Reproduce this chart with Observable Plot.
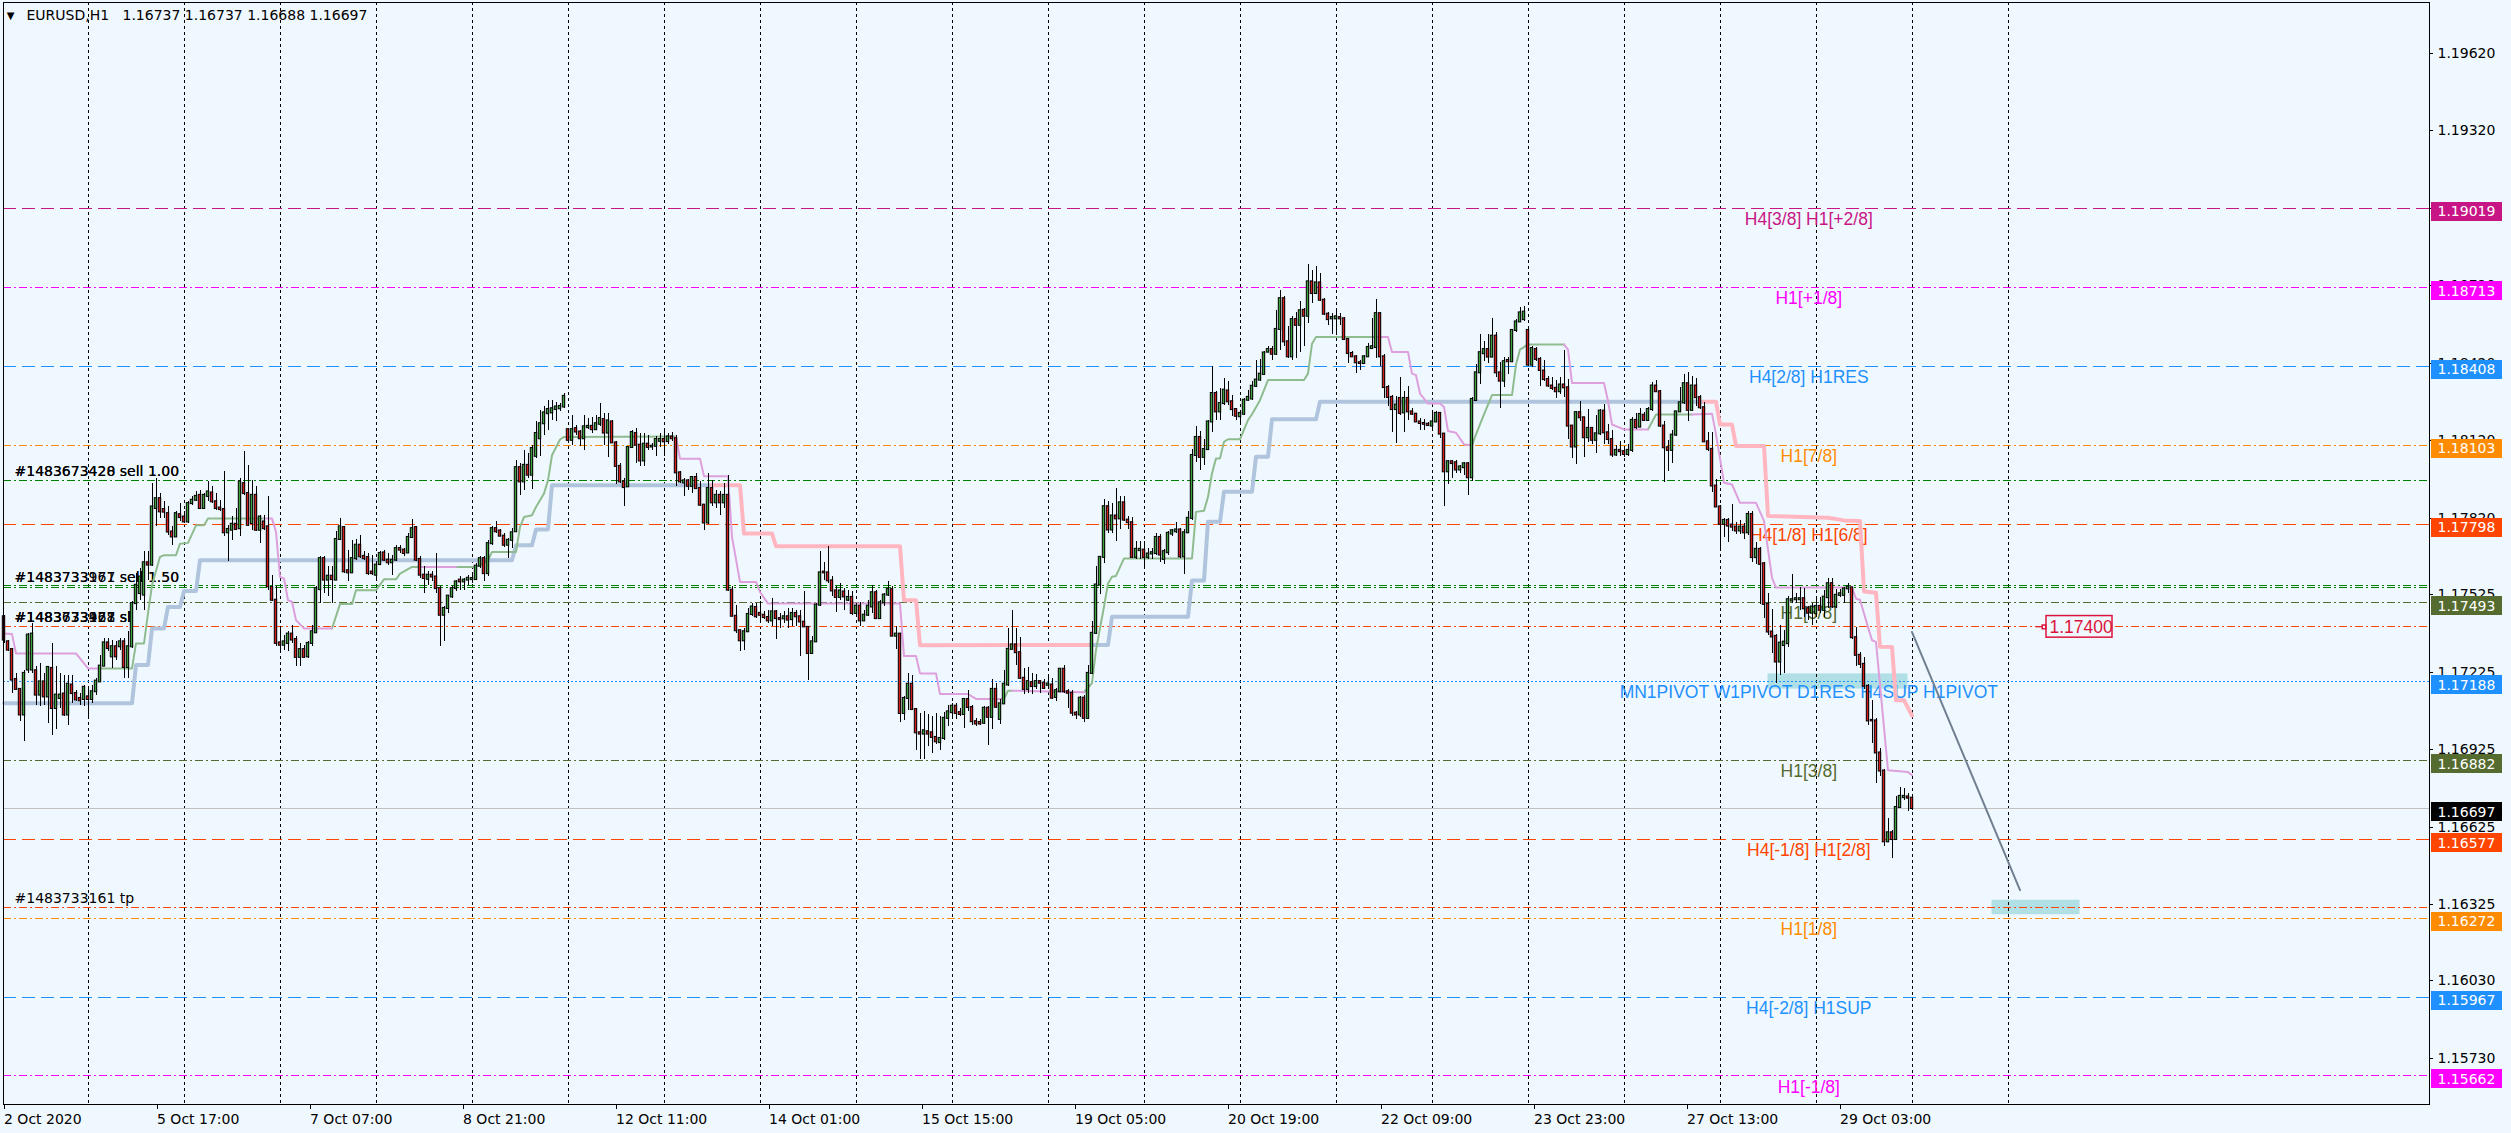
<!DOCTYPE html>
<html><head><meta charset="utf-8">
<script src="https://cdn.jsdelivr.net/npm/d3@7"></script>
<script src="https://cdn.jsdelivr.net/npm/@observablehq/plot@0.6"></script>
<style>html,body{margin:0;padding:0;background:#F0F8FF;overflow:hidden;}</style>
</head><body><div id="chart"></div>
<script>
// ---------------- DATA ----------------
const titleSymbol = "EURUSD,H1";
const titleOHLC = "1.16737 1.16737 1.16688 1.16697";

const opens = [
1.17439,1.17342,1.17312,1.17196,1.17158,1.17059,1.17233,1.17233,1.17230,1.17136,
1.17187,1.17129,1.17239,1.17084,1.17123,1.17140,1.17059,1.17175,1.17142,1.17123,
1.17119,1.17129,1.17119,1.17149,1.17187,1.17248,1.17338,1.17284,1.17323,1.17323,
1.17342,1.17243,1.17323,1.17490,1.17529,1.17523,1.17648,1.17639,1.17858,1.17896,
1.17854,1.17838,1.17767,1.17748,1.17834,1.17825,1.17806,1.17877,1.17890,1.17909,
1.17858,1.17905,1.17918,1.17884,1.17860,1.17854,1.17764,1.17774,1.17797,1.17780,
1.17954,1.17916,1.17800,1.17909,1.17774,1.17806,1.17787,1.17552,1.17503,1.17338,
1.17329,1.17336,1.17372,1.17351,1.17282,1.17312,1.17284,1.17336,1.17377,1.17544,
1.17664,1.17581,1.17596,1.17581,1.17738,1.17784,1.17617,1.17609,1.17664,1.17716,
1.17673,1.17668,1.17612,1.17600,1.17641,1.17686,1.17658,1.17648,1.17658,1.17703,
1.17697,1.17686,1.17746,1.17784,1.17661,1.17600,1.17584,1.17600,1.17593,1.17548,
1.17445,1.17471,1.17516,1.17548,1.17581,1.17574,1.17581,1.17583,1.17583,1.17635,
1.17664,1.17606,1.17722,1.17780,1.17771,1.17751,1.17716,1.17735,1.17768,1.18016,
1.17961,1.18025,1.17987,1.18060,1.18128,1.18186,1.18225,1.18228,1.18241,1.18244,
1.18251,1.18163,1.18122,1.18167,1.18154,1.18128,1.18171,1.18176,1.18163,1.18184,
1.18202,1.18150,1.18193,1.18112,1.18021,1.17961,1.17942,1.18094,1.18148,1.18103,
1.18042,1.18107,1.18096,1.18099,1.18118,1.18125,1.18117,1.18135,1.18128,1.17996,
1.17957,1.17965,1.17944,1.17978,1.17935,1.17871,1.17802,1.17935,1.17880,1.17909,
1.17880,1.17909,1.17542,1.17441,1.17385,1.17346,1.17381,1.17448,1.17475,1.17452,
1.17445,1.17436,1.17423,1.17458,1.17432,1.17431,1.17439,1.17428,1.17452,1.17439,
1.17418,1.17398,1.17297,1.17342,1.17484,1.17612,1.17609,1.17578,1.17539,1.17514,
1.17535,1.17503,1.17514,1.17452,1.17480,1.17423,1.17445,1.17477,1.17532,1.17432,
1.17493,1.17523,1.17544,1.17364,1.17372,1.17065,1.17123,1.17178,1.17080,1.16990,
1.16985,1.16994,1.16990,1.16972,1.16952,1.16968,1.17046,1.17068,1.17093,1.17068,
1.17061,1.17119,1.17088,1.17033,1.17030,1.17027,1.17085,1.17050,1.17158,1.17042,
1.17102,1.17175,1.17313,1.17330,1.17300,1.17201,1.17158,1.17184,1.17169,1.17188,
1.17182,1.17174,1.17175,1.17127,1.17149,1.17236,1.17149,1.17143,1.17066,1.17059,
1.17124,1.17046,1.17220,1.17375,1.17562,1.17669,1.17865,1.17775,1.17829,1.17818,
1.17880,1.17813,1.17803,1.17669,1.17695,1.17697,1.17669,1.17682,1.17684,1.17746,
1.17661,1.17687,1.17759,1.17768,1.17775,1.17671,1.17764,1.17820,1.18063,1.18133,
1.18056,1.18086,1.18193,1.18303,1.18232,1.18264,1.18313,1.18271,1.18241,1.18213,
1.18223,1.18277,1.18282,1.18331,1.18355,1.18377,1.18463,1.18473,1.18455,1.18551,
1.18670,1.18503,1.18445,1.18589,1.18567,1.18625,1.18602,1.18735,1.18690,1.18731,
1.18664,1.18610,1.18592,1.18592,1.18597,1.18592,1.18512,1.18458,1.18445,1.18422,
1.18419,1.18445,1.18477,1.18481,1.18612,1.18445,1.18326,1.18288,1.18241,1.18284,
1.18228,1.18284,1.18232,1.18223,1.18193,1.18187,1.18184,1.18177,1.18193,1.18226,
1.18146,1.18000,1.18039,1.18035,1.18007,1.18016,1.18031,1.17977,1.18276,1.18383,
1.18457,1.18473,1.18444,1.18525,1.18383,1.18351,1.18431,1.18426,1.18547,1.18580,
1.18589,1.18547,1.18413,1.18473,1.18435,1.18390,1.18357,1.18332,1.18323,1.18310,
1.18336,1.18325,1.18177,1.18096,1.18229,1.18209,1.18132,1.18168,1.18122,1.18147,
1.18235,1.18151,1.18125,1.18065,1.18083,1.18078,1.18067,1.18083,1.18199,1.18173,
1.18219,1.18199,1.18241,1.18332,1.18310,1.18177,1.18093,1.18083,1.18142,1.18232,
1.18267,1.18341,1.18238,1.18332,1.18287,1.18248,1.18116,1.18087,1.17945,1.17864,
1.17797,1.17812,1.17794,1.17786,1.17771,1.17786,1.17764,1.17835,1.17668,1.17700,
1.17644,1.17487,1.17380,1.17363,1.17264,1.17328,1.17335,1.17500,1.17505,1.17505,
1.17509,1.17470,1.17453,1.17451,1.17479,1.17464,1.17513,1.17567,1.17477,1.17522,
1.17522,1.17547,1.17551,1.17358,1.17290,1.17255,1.17170,1.17038,1.17036,1.16912,
1.16842,1.16568,1.16603,1.16577,1.16701,1.16739,1.16742,1.16737];

const highs = [
1.17445,1.17349,1.17316,1.17220,1.17162,1.17233,1.17374,1.17413,1.17246,1.17258,
1.17220,1.17248,1.17336,1.17246,1.17220,1.17213,1.17213,1.17213,1.17155,1.17142,
1.17175,1.17168,1.17175,1.17200,1.17291,1.17355,1.17355,1.17349,1.17342,1.17355,
1.17355,1.17381,1.17497,1.17606,1.17626,1.17690,1.17690,1.17954,1.17974,1.17916,
1.17884,1.17864,1.17787,1.17845,1.17877,1.17845,1.17884,1.17903,1.17922,1.17929,
1.17916,1.17961,1.17942,1.17916,1.17890,1.18000,1.17793,1.17826,1.17858,1.17974,
1.18077,1.18025,1.17967,1.17942,1.17832,1.17832,1.17903,1.17600,1.17555,1.17400,
1.17368,1.17381,1.17407,1.17361,1.17336,1.17329,1.17342,1.17407,1.17555,1.17671,
1.17671,1.17632,1.17632,1.17768,1.17819,1.17787,1.17697,1.17735,1.17738,1.17755,
1.17690,1.17684,1.17677,1.17652,1.17690,1.17697,1.17684,1.17677,1.17716,1.17716,
1.17703,1.17761,1.17815,1.17789,1.17671,1.17632,1.17613,1.17613,1.17684,1.17555,
1.17477,1.17523,1.17555,1.17581,1.17593,1.17587,1.17600,1.17606,1.17645,1.17671,
1.17671,1.17735,1.17787,1.17806,1.17777,1.17761,1.17742,1.17780,1.18045,1.18032,
1.18083,1.18070,1.18103,1.18193,1.18238,1.18251,1.18277,1.18277,1.18270,1.18264,
1.18302,1.18167,1.18219,1.18180,1.18161,1.18219,1.18206,1.18212,1.18219,1.18264,
1.18225,1.18225,1.18199,1.18118,1.18032,1.17974,1.18096,1.18158,1.18167,1.18148,
1.18148,1.18141,1.18109,1.18135,1.18148,1.18167,1.18150,1.18154,1.18141,1.18003,
1.17974,1.17970,1.17983,1.17993,1.17961,1.17874,1.17993,1.17967,1.17929,1.17922,
1.17954,1.17987,1.17557,1.17484,1.17387,1.17394,1.17471,1.17490,1.17490,1.17497,
1.17458,1.17465,1.17510,1.17465,1.17452,1.17458,1.17471,1.17471,1.17465,1.17465,
1.17535,1.17400,1.17361,1.17490,1.17690,1.17648,1.17712,1.17596,1.17557,1.17568,
1.17548,1.17542,1.17535,1.17490,1.17493,1.17465,1.17503,1.17561,1.17542,1.17503,
1.17529,1.17574,1.17555,1.17400,1.17374,1.17129,1.17220,1.17213,1.17084,1.17065,
1.17071,1.17059,1.17052,1.17065,1.17052,1.17068,1.17097,1.17104,1.17104,1.17084,
1.17123,1.17155,1.17097,1.17046,1.17040,1.17091,1.17091,1.17197,1.17182,1.17117,
1.17233,1.17394,1.17463,1.17394,1.17360,1.17240,1.17244,1.17220,1.17214,1.17192,
1.17197,1.17214,1.17201,1.17162,1.17240,1.17249,1.17156,1.17153,1.17072,1.17130,
1.17133,1.17249,1.17420,1.17633,1.17671,1.17891,1.17884,1.17878,1.17936,1.17903,
1.17906,1.17826,1.17824,1.17729,1.17729,1.17729,1.17704,1.17704,1.17762,1.17759,
1.17700,1.17768,1.17777,1.17803,1.17781,1.17775,1.17845,1.18086,1.18177,1.18155,
1.18125,1.18200,1.18409,1.18309,1.18322,1.18361,1.18348,1.18297,1.18245,1.18239,
1.18284,1.18313,1.18348,1.18432,1.18435,1.18464,1.18484,1.18484,1.18625,1.18703,
1.18677,1.18563,1.18600,1.18615,1.18658,1.18632,1.18803,1.18780,1.18795,1.18767,
1.18670,1.18615,1.18612,1.18625,1.18612,1.18597,1.18516,1.18464,1.18451,1.18429,
1.18451,1.18496,1.18593,1.18667,1.18615,1.18455,1.18335,1.18297,1.18290,1.18365,
1.18309,1.18329,1.18245,1.18226,1.18206,1.18203,1.18190,1.18232,1.18232,1.18228,
1.18148,1.18045,1.18045,1.18045,1.18026,1.18035,1.18035,1.18287,1.18415,1.18531,
1.18506,1.18531,1.18593,1.18538,1.18422,1.18444,1.18441,1.18551,1.18589,1.18635,
1.18641,1.18555,1.18486,1.18482,1.18444,1.18431,1.18370,1.18364,1.18354,1.18364,
1.18470,1.18357,1.18181,1.18235,1.18274,1.18212,1.18241,1.18173,1.18219,1.18241,
1.18261,1.18183,1.18160,1.18103,1.18119,1.18087,1.18106,1.18209,1.18225,1.18245,
1.18229,1.18248,1.18345,1.18354,1.18315,1.18194,1.18122,1.18158,1.18235,1.18325,
1.18377,1.18383,1.18370,1.18361,1.18297,1.18267,1.18151,1.18151,1.17971,1.17868,
1.17820,1.17820,1.17874,1.17803,1.17810,1.17799,1.17848,1.17846,1.17726,1.17706,
1.17651,1.17528,1.17466,1.17371,1.17406,1.17386,1.17518,1.17603,1.17528,1.17554,
1.17547,1.17477,1.17489,1.17509,1.17515,1.17541,1.17586,1.17586,1.17544,1.17544,
1.17554,1.17569,1.17554,1.17399,1.17299,1.17283,1.17177,1.17116,1.17045,1.16929,
1.16847,1.16658,1.16613,1.16744,1.16780,1.16774,1.16755,1.16737];

const lows = [
1.17336,1.17303,1.17142,1.17155,1.17033,1.16955,1.17220,1.17220,1.17097,1.17091,
1.17097,1.17026,1.16981,1.17001,1.17084,1.17052,1.17020,1.17104,1.17110,1.17097,
1.17091,1.17046,1.17104,1.17136,1.17187,1.17246,1.17303,1.17239,1.17271,1.17310,
1.17200,1.17200,1.17316,1.17465,1.17503,1.17465,1.17581,1.17635,1.17787,1.17819,
1.17819,1.17755,1.17716,1.17745,1.17806,1.17800,1.17800,1.17871,1.17884,1.17855,
1.17854,1.17884,1.17877,1.17851,1.17845,1.17748,1.17652,1.17735,1.17774,1.17748,
1.17909,1.17787,1.17774,1.17768,1.17722,1.17774,1.17542,1.17497,1.17323,1.17303,
1.17310,1.17303,1.17336,1.17248,1.17246,1.17278,1.17278,1.17323,1.17374,1.17490,
1.17529,1.17516,1.17490,1.17578,1.17735,1.17606,1.17574,1.17606,1.17658,1.17664,
1.17658,1.17600,1.17600,1.17581,1.17639,1.17652,1.17639,1.17600,1.17652,1.17684,
1.17671,1.17684,1.17742,1.17652,1.17587,1.17529,1.17561,1.17574,1.17529,1.17323,
1.17342,1.17452,1.17510,1.17535,1.17542,1.17542,1.17561,1.17568,1.17581,1.17626,
1.17574,1.17593,1.17716,1.17761,1.17748,1.17709,1.17664,1.17703,1.17764,1.17909,
1.17929,1.17974,1.17931,1.18051,1.18058,1.18141,1.18161,1.18199,1.18193,1.18232,
1.18244,1.18109,1.18103,1.18141,1.18099,1.18083,1.18163,1.18148,1.18161,1.18174,
1.18103,1.18055,1.18109,1.17952,1.17954,1.17864,1.17939,1.18090,1.18034,1.18019,
1.18019,1.18083,1.18083,1.18058,1.18096,1.18058,1.18107,1.18116,1.17942,1.17954,
1.17903,1.17929,1.17916,1.17931,1.17864,1.17774,1.17797,1.17864,1.17858,1.17832,
1.17858,1.17535,1.17439,1.17374,1.17303,1.17307,1.17377,1.17439,1.17432,1.17423,
1.17428,1.17413,1.17400,1.17351,1.17394,1.17413,1.17394,1.17400,1.17400,1.17284,
1.17398,1.17194,1.17294,1.17338,1.17480,1.17581,1.17568,1.17516,1.17454,1.17503,
1.17465,1.17497,1.17445,1.17436,1.17400,1.17419,1.17439,1.17452,1.17428,1.17428,
1.17477,1.17519,1.17361,1.17312,1.17029,1.17037,1.17078,1.17078,1.16921,1.16885,
1.16885,1.16936,1.16910,1.16943,1.16923,1.16962,1.17013,1.17052,1.17042,1.17052,
1.17007,1.17071,1.17020,1.17013,1.17017,1.17021,1.16939,1.17001,1.17085,1.17021,
1.17098,1.17171,1.17311,1.17249,1.17195,1.17140,1.17143,1.17137,1.17156,1.17143,
1.17156,1.17162,1.17120,1.17111,1.17146,1.17143,1.17085,1.17055,1.17040,1.17050,
1.17030,1.17040,1.17214,1.17372,1.17527,1.17646,1.17762,1.17762,1.17729,1.17775,
1.17807,1.17775,1.17665,1.17661,1.17659,1.17626,1.17661,1.17661,1.17678,1.17648,
1.17643,1.17678,1.17751,1.17762,1.17665,1.17601,1.17762,1.17813,1.18035,1.18007,
1.18026,1.18081,1.18151,1.18200,1.18200,1.18258,1.18258,1.18213,1.18200,1.18187,
1.18219,1.18271,1.18277,1.18326,1.18348,1.18374,1.18460,1.18432,1.18451,1.18471,
1.18486,1.18438,1.18429,1.18438,1.18460,1.18486,1.18574,1.18651,1.18687,1.18658,
1.18606,1.18567,1.18533,1.18529,1.18567,1.18507,1.18419,1.18442,1.18380,1.18393,
1.18416,1.18442,1.18473,1.18438,1.18406,1.18284,1.18251,1.18151,1.18110,1.18219,
1.18151,1.18200,1.18219,1.18190,1.18159,1.18159,1.18174,1.18161,1.18190,1.18129,
1.17867,1.17949,1.17974,1.17994,1.17994,1.17984,1.17910,1.17962,1.18274,1.18338,
1.18428,1.18418,1.18441,1.18364,1.18245,1.18325,1.18377,1.18422,1.18538,1.18577,
1.18583,1.18409,1.18403,1.18428,1.18332,1.18351,1.18325,1.18315,1.18284,1.18299,
1.18287,1.18125,1.18052,1.18029,1.18196,1.18054,1.18112,1.18106,1.18070,1.18142,
1.18106,1.18106,1.18057,1.18061,1.18061,1.18054,1.18061,1.18074,1.18164,1.18171,
1.18194,1.18196,1.18235,1.18306,1.18171,1.17958,1.18003,1.18031,1.18138,1.18229,
1.18261,1.18194,1.18235,1.18254,1.18241,1.18112,1.18080,1.17919,1.17861,1.17691,
1.17745,1.17726,1.17768,1.17758,1.17758,1.17739,1.17752,1.17648,1.17642,1.17487,
1.17431,1.17367,1.17296,1.17180,1.17212,1.17219,1.17319,1.17489,1.17489,1.17464,
1.17438,1.17425,1.17406,1.17438,1.17451,1.17438,1.17470,1.17470,1.17470,1.17515,
1.17489,1.17528,1.17350,1.17247,1.17238,1.17157,1.17019,1.16948,1.16793,1.16822,
1.16551,1.16564,1.16503,1.16574,1.16697,1.16729,1.16684,1.16688];

const closes = [
1.17349,1.17310,1.17194,1.17158,1.17059,1.17220,1.17368,1.17372,1.17136,1.17187,
1.17129,1.17243,1.17084,1.17136,1.17136,1.17059,1.17178,1.17142,1.17117,1.17114,
1.17166,1.17119,1.17149,1.17190,1.17248,1.17338,1.17316,1.17323,1.17284,1.17342,
1.17243,1.17323,1.17490,1.17561,1.17593,1.17648,1.17639,1.17864,1.17896,1.17845,
1.17844,1.17767,1.17748,1.17838,1.17823,1.17806,1.17877,1.17890,1.17905,1.17858,
1.17909,1.17922,1.17884,1.17858,1.17854,1.17764,1.17777,1.17797,1.17777,1.17961,
1.17916,1.17793,1.17909,1.17774,1.17825,1.17780,1.17555,1.17503,1.17336,1.17329,
1.17342,1.17372,1.17349,1.17282,1.17312,1.17282,1.17336,1.17381,1.17548,1.17664,
1.17581,1.17596,1.17583,1.17738,1.17787,1.17613,1.17609,1.17664,1.17716,1.17671,
1.17664,1.17606,1.17606,1.17639,1.17684,1.17658,1.17648,1.17658,1.17703,1.17697,
1.17684,1.17746,1.17780,1.17658,1.17600,1.17587,1.17600,1.17593,1.17548,1.17445,
1.17471,1.17519,1.17548,1.17574,1.17574,1.17581,1.17588,1.17587,1.17635,1.17664,
1.17606,1.17722,1.17780,1.17768,1.17751,1.17716,1.17735,1.17764,1.18016,1.17961,
1.18025,1.17987,1.18090,1.18148,1.18186,1.18228,1.18241,1.18244,1.18251,1.18253,
1.18292,1.18122,1.18163,1.18154,1.18128,1.18174,1.18176,1.18163,1.18186,1.18206,
1.18150,1.18197,1.18112,1.18021,1.17961,1.17939,1.18094,1.18152,1.18103,1.18042,
1.18107,1.18094,1.18099,1.18125,1.18125,1.18116,1.18135,1.18128,1.17996,1.17961,
1.17965,1.17944,1.17978,1.17935,1.17871,1.17802,1.17935,1.17880,1.17909,1.17880,
1.17909,1.17542,1.17441,1.17385,1.17346,1.17381,1.17448,1.17477,1.17439,1.17445,
1.17436,1.17423,1.17458,1.17432,1.17428,1.17439,1.17426,1.17452,1.17439,1.17419,
1.17400,1.17297,1.17342,1.17484,1.17609,1.17609,1.17578,1.17539,1.17514,1.17539,
1.17516,1.17514,1.17452,1.17480,1.17423,1.17445,1.17480,1.17532,1.17432,1.17493,
1.17523,1.17544,1.17364,1.17372,1.17065,1.17123,1.17178,1.17080,1.16990,1.16985,
1.16998,1.16985,1.16972,1.16955,1.16968,1.17046,1.17071,1.17093,1.17065,1.17061,
1.17119,1.17088,1.17033,1.17024,1.17024,1.17085,1.17050,1.17158,1.17089,1.17102,
1.17178,1.17313,1.17330,1.17300,1.17201,1.17158,1.17188,1.17169,1.17188,1.17182,
1.17162,1.17179,1.17124,1.17153,1.17236,1.17149,1.17143,1.17066,1.17059,1.17124,
1.17046,1.17220,1.17375,1.17562,1.17669,1.17865,1.17775,1.17829,1.17818,1.17880,
1.17813,1.17803,1.17669,1.17700,1.17700,1.17669,1.17682,1.17687,1.17746,1.17678,
1.17691,1.17762,1.17772,1.17775,1.17671,1.17764,1.17820,1.18063,1.18133,1.18056,
1.18086,1.18193,1.18303,1.18232,1.18264,1.18316,1.18271,1.18241,1.18215,1.18226,
1.18277,1.18288,1.18331,1.18355,1.18378,1.18460,1.18473,1.18455,1.18551,1.18670,
1.18503,1.18445,1.18589,1.18567,1.18623,1.18602,1.18735,1.18690,1.18731,1.18664,
1.18610,1.18589,1.18597,1.18600,1.18592,1.18512,1.18458,1.18445,1.18422,1.18419,
1.18445,1.18481,1.18484,1.18612,1.18445,1.18326,1.18288,1.18241,1.18258,1.18226,
1.18284,1.18232,1.18223,1.18193,1.18187,1.18184,1.18179,1.18193,1.18226,1.18146,
1.18000,1.18039,1.18032,1.18007,1.18019,1.18031,1.17977,1.18280,1.18383,1.18461,
1.18473,1.18444,1.18525,1.18383,1.18351,1.18426,1.18426,1.18547,1.18580,1.18615,
1.18618,1.18413,1.18477,1.18435,1.18392,1.18357,1.18332,1.18323,1.18310,1.18336,
1.18325,1.18177,1.18096,1.18229,1.18209,1.18132,1.18168,1.18122,1.18147,1.18235,
1.18151,1.18125,1.18065,1.18083,1.18078,1.18067,1.18083,1.18199,1.18171,1.18222,
1.18199,1.18241,1.18332,1.18310,1.18177,1.18093,1.18083,1.18142,1.18232,1.18267,
1.18341,1.18238,1.18332,1.18287,1.18248,1.18116,1.18087,1.17945,1.17864,1.17797,
1.17812,1.17790,1.17786,1.17771,1.17786,1.17764,1.17835,1.17668,1.17700,1.17642,
1.17487,1.17380,1.17361,1.17264,1.17337,1.17341,1.17505,1.17505,1.17509,1.17509,
1.17470,1.17453,1.17477,1.17479,1.17464,1.17515,1.17567,1.17477,1.17522,1.17528,
1.17547,1.17554,1.17358,1.17290,1.17255,1.17170,1.17036,1.17036,1.16912,1.16842,
1.16568,1.16603,1.16577,1.16701,1.16744,1.16744,1.16737,1.16697];

// Murrey-style level lines
const levelPrices = [1.19019,1.18713,1.18408,1.18103,1.17798,1.17493,1.17188,1.16882,1.16577,1.16272,1.15967,1.15662];
const levelLabels = ["H4[3/8] H1[+2/8]","H1[+1/8]","H4[2/8] H1RES","H1[7/8]","H4[1/8] H1[6/8]","H1[5/8]",
  "MN1PIVOT W1PIVOT D1RES H4SUP H1PIVOT","H1[3/8]","H4[-1/8] H1[2/8]","H1[1/8]","H4[-2/8] H1SUP","H1[-1/8]"];
const bidPrice = 1.16697;

// order lines
const sellPrices = [1.17968, 1.17561, 1.17553];
const stopPrices = [1.17400, 1.16314];
const orderTextPrices = [1.17968,1.17968,1.17557,1.17557,1.17400,1.17400,1.17400,1.16314];
const orderTexts = ["#1483673428 sell 1.00","#1483673420 sell 1.00","#1483733977 sell 1.50","#1483733161 sell 1.50",
  "#1483673428 sl","#1483733977 sl","#1483733161 sl","#1483733161 tp"];

// axes
const yTicks = [1.19620,1.19320,1.19020,1.18720,1.18420,1.18120,1.17820,1.17525,1.17225,1.16925,1.16625,1.16325,1.16030,1.15730];
const xTickBars = [0,38.25,76.5,114.75,153,191.25,229.5,267.75,306,344.25,382.5,420.75,459];
const xTickLabels = ["2 Oct 2020","5 Oct 17:00","7 Oct 07:00","8 Oct 21:00","12 Oct 11:00","14 Oct 01:00","15 Oct 15:00",
  "19 Oct 05:00","20 Oct 19:00","22 Oct 09:00","23 Oct 23:00","27 Oct 13:00","29 Oct 03:00"];
const dayStartBars = [21,45,69,93,117,141,165,189,213,237,261,285,309,333,357,381,405,429,453,477,501];

// slow trailing line: up (steel blue) / down (pink) ; [bar, price]
const slowUp1 = [[0,1.17104],[32,1.17104],[33,1.17252],[36,1.17252],[37,1.17394],[40,1.17394],[41,1.17477],[44,1.17477],
  [45,1.17539],[48,1.17539],[49,1.17658],[127,1.17658],[128,1.17716],[132,1.17716],[133,1.17777],[136,1.17777],[137,1.17948],[177,1.17948]];
const slowDown1 = [[177,1.17948],[184,1.17948],[185,1.17761],[192,1.17761],[193,1.17712],[224,1.17712],[225,1.17503],[228,1.17503],[229,1.17329],[271,1.17330]];
const slowUp2 = [[271,1.17330],[276,1.17330],[277,1.17439],[296,1.17439],[297,1.17579],[300,1.17579],[301,1.17807],[304,1.17807],
  [305,1.17923],[312,1.17923],[313,1.18058],[316,1.18058],[317,1.18203],[328,1.18203],[329,1.18271],[425,1.18271]];
const slowDown2 = [[425,1.18271],[428,1.18271],[429,1.18183],[432,1.18183],[433,1.18100],[440,1.18100],[441,1.17829],[456,1.17822],
  [460,1.17812],[464,1.17810],[465,1.17537],[468,1.17532],[469,1.17323],[472,1.17322],[473,1.17116],[475,1.17116],[477,1.17057]];

// fast trailing line: up (dark sea green) / down (plum)
const fastDown = [
  [[0,1.17374],[2,1.17372],[3,1.17297],[18,1.17297],[21,1.17239],[24,1.17239]],
  [[65,1.17819],[67,1.17819],[68,1.17768],[69,1.17593],[70,1.17587],[71,1.17503],[72,1.17497],[73,1.17426],[75,1.17394],[82,1.17394]],
  [[104,1.17632],[113,1.17632]],
  [[168,1.18137],[169,1.18051],[174,1.18051],[175,1.17983],[181,1.17983],[182,1.17748],[184,1.17574],[188,1.17574],[189,1.17535],
   [191,1.17490],[224,1.17490],[225,1.17287],[228,1.17287],[229,1.17220],[233,1.17220],[234,1.17140],[241,1.17140],[243,1.17121],[250,1.17121]],
  [[252,1.17153],[270,1.17147]],
  [[343,1.18522],[346,1.18522],[347,1.18464],[351,1.18464],[352,1.18380],[353,1.18374],[354,1.18303],[356,1.18264],[359,1.18264],
   [360,1.18251],[361,1.18158],[363,1.18151],[365,1.18106],[367,1.18103]],
  [[390,1.18493],[391,1.18473],[392,1.18344],[400,1.18344],[401,1.18274],[402,1.18183],[405,1.18164],[411,1.18164]],
  [[422,1.18222],[427,1.18225],[428,1.18145],[430,1.17958],[432,1.17951],[434,1.17880],[438,1.17880],[440,1.17810],[442,1.17590],
   [443,1.17552],[462,1.17552],[463,1.17509],[464,1.17505],[466,1.17399],[467,1.17348],[468,1.17342],[471,1.16845],[476,1.16838],[477,1.16826]]
];
const fastUp = [
  [[24,1.17239],[32,1.17239],[33,1.17336],[35,1.17336],[36,1.17452],[37,1.17561],[39,1.17671],[40,1.17677],[43,1.17677],[44,1.17722],
   [46,1.17725],[48,1.17793],[50,1.17793],[51,1.17819],[65,1.17819]],
  [[82,1.17394],[84,1.17488],[87,1.17488],[88,1.17542],[93,1.17542],[95,1.17584],[98,1.17584],[99,1.17606],[102,1.17632],[104,1.17632]],
  [[113,1.17632],[118,1.17632],[119,1.17639],[121,1.17658],[122,1.17690],[128,1.17690],[129,1.17787],[130,1.17825],[132,1.17832],
   [133,1.17864],[135,1.17916],[136,1.17967],[137,1.18064],[139,1.18125],[140,1.18135],[168,1.18137]],
  [[250,1.17121],[251,1.17153],[252,1.17153]],
  [[270,1.17147],[272,1.17182],[273,1.17311],[275,1.17478],[276,1.17568],[277,1.17594],[278,1.17597],[280,1.17665],[297,1.17665],
   [298,1.17845],[300,1.17849],[301,1.17903],[302,1.17994],[303,1.18052],[304,1.18052],[305,1.18116],[306,1.18126],[309,1.18126],
   [311,1.18200],[312,1.18223],[314,1.18277],[316,1.18355],[325,1.18355],[326,1.18380],[327,1.18496],[328,1.18522],[343,1.18522]],
  [[367,1.18103],[368,1.18145],[370,1.18222],[372,1.18297],[377,1.18297],[378,1.18415],[379,1.18473],[381,1.18493],[390,1.18493]],
  [[411,1.18164],[413,1.18222],[422,1.18222]]
];

// drawn objects
const zoneBars1 = [441, 497], zoneBars2 = [476, 519];
const zonePrices1 = [1.17159, 1.16286], zonePrices2 = [1.17218, 1.16342];
const trendBars = [477, 504], trendPrices = [1.17380, 1.16381];
const priceLabelBar = 508, priceLabelPrice = 1.17400;

// ---------------- STYLES / LAYOUT ----------------
const levelColors = ["#C71585","#FF00FF","#1E90FF","#FF8C00","#FF4500","#556B2F","#1E90FF","#556B2F","#FF4500","#FF8C00","#1E90FF","#FF00FF"];
const levelStyles = ["dash","dashdot","dash","dashdot","dash","dashdot","dot","dashdot","dash","dashdot","dash","dashdot"];
const dashOf = {dash: "13,6", dashdot: "8,3,2,3", dot: "2,2"};
const BULL = "#3DA23D", BEAR = "#D41E1E";
const X_DOMAIN = [-0.125, 606.375];
const Y_DOMAIN = [1.155516, 1.198162];
const xMax = X_DOMAIN[1];
const levelLabelBar = 451.2;
const LABEL_FONT = "Liberation Sans, Arial, sans-serif";

const title = titleSymbol + "\u00A0\u00A0 " + titleOHLC;
const bars = closes.map((c, i) => ({i, o: opens[i], h: highs[i], l: lows[i], c}));
const levels = levelPrices.map((p, k) => ({price: p, label: levelLabels[k], color: levelColors[k], style: levelStyles[k]}));
const axisBoxes = levels.concat([{price: bidPrice, color: "#000000"}]);
const orderLabelData = orderTexts.map((t, k) => ({t, price: orderTextPrices[k]}));
const zones = zoneBars1.map((b, k) => ({b1: b, b2: zoneBars2[k], p1: zonePrices1[k], p2: zonePrices2[k]}));
const trend = trendBars.map((b, k) => ({b, p: trendPrices[k]}));
const priceLabel = [{bar: priceLabelBar, price: priceLabelPrice}];
const xTicks = xTickBars.map((b, k) => ({b, t: xTickLabels[k]}));

const marks = [];
marks.push(Plot.rect(zones, {x1: "b1", x2: "b2", y1: "p1", y2: "p2", fill: "#B0E0E6"}));
marks.push(Plot.ruleX(dayStartBars, {x: d => d, stroke: "black", strokeDasharray: "3,3", shapeRendering: "crispEdges"}));
for (const s of ["dash", "dashdot", "dot"]) {
  marks.push(Plot.ruleY(levels.filter(d => d.style === s), {y: "price", stroke: "color", strokeDasharray: dashOf[s], shapeRendering: "crispEdges"}));
}
marks.push(Plot.ruleY(sellPrices, {y: d => d, stroke: "#008000", strokeDasharray: "8,3,2,3", shapeRendering: "crispEdges"}));
marks.push(Plot.ruleY(stopPrices, {y: d => d, stroke: "#FF4500", strokeDasharray: "8,3,2,3", shapeRendering: "crispEdges"}));
marks.push(Plot.ruleY([bidPrice], {y: d => d, stroke: "#C0C0C0", shapeRendering: "crispEdges"}));
marks.push(Plot.text(levels, {x: () => levelLabelBar, y: "price", text: "label", fill: "color", dy: 11,
  fontFamily: LABEL_FONT, fontSize: 17.5}));
marks.push(Plot.text(orderLabelData, {y: "price", text: "t", frameAnchor: "left", textAnchor: "start", dx: 11, dy: -9, fill: "black"}));
// indicator lines
for (const seg of [slowUp1, slowUp2]) marks.push(Plot.line(seg, {x: d => d[0], y: d => d[1], stroke: "#B0C4DE", strokeWidth: 4}));
for (const seg of [slowDown1, slowDown2]) marks.push(Plot.line(seg, {x: d => d[0], y: d => d[1], stroke: "#FFB6C1", strokeWidth: 4}));
for (const seg of fastUp) marks.push(Plot.line(seg, {x: d => d[0], y: d => d[1], stroke: "#8FBC8F", strokeWidth: 2}));
for (const seg of fastDown) marks.push(Plot.line(seg, {x: d => d[0], y: d => d[1], stroke: "#DDA0DD", strokeWidth: 2}));
// candles
marks.push(Plot.ruleX(bars, {x: "i", y1: "l", y2: "h", stroke: "black", strokeWidth: 1, shapeRendering: "crispEdges"}));
marks.push(Plot.rect(bars, {x1: d => d.i - 0.3, x2: d => d.i + 0.3, y1: "o", y2: "c",
  fill: d => d.c >= d.o ? BULL : BEAR, stroke: "black", strokeWidth: 1, insetTop: -0.5, insetBottom: -0.5}));
// trend line & price label object
marks.push(Plot.line(trend, {x: "b", y: "p", stroke: "#708090", strokeWidth: 2}));
marks.push(Plot.ruleY(priceLabel, {y: "price", x1: "bar", x2: "bar", insetRight: -10.5, stroke: "#DC143C"}));
marks.push(Plot.rect(priceLabel, {x1: "bar", x2: "bar", y1: "price", y2: "price", insetLeft: 10.5, insetRight: -76.5,
  insetTop: -10.8, insetBottom: -10.8, fill: "#F0F8FF", stroke: "#DC143C", strokeWidth: 1.5}));
marks.push(Plot.dot(priceLabel, {x: "bar", y: "price", symbol: "square", r: 2, stroke: "#DC143C", fill: "white", dx: 8}));
marks.push(Plot.text(priceLabel, {x: "bar", y: "price", text: d => d.price.toFixed(5), textAnchor: "start", dx: 13.5, dy: 1,
  fill: "#DC143C", fontFamily: LABEL_FONT, fontSize: 17.5}));
// right axis
marks.push(Plot.ruleY(yTicks, {y: d => d, x1: () => xMax, x2: () => xMax, insetRight: -4, stroke: "black", shapeRendering: "crispEdges"}));
marks.push(Plot.text(yTicks, {y: d => d, text: d => d.toFixed(5), frameAnchor: "right", textAnchor: "start", dx: 8, fill: "black"}));
marks.push(Plot.rect(axisBoxes, {x1: () => xMax, x2: () => xMax, y1: "price", y2: "price", insetLeft: 2, insetRight: -73,
  insetTop: -6, insetBottom: -13, fill: "color", shapeRendering: "crispEdges"}));
marks.push(Plot.text(axisBoxes, {y: "price", text: d => d.price.toFixed(5), frameAnchor: "right", textAnchor: "start", dx: 8, dy: 3.5, fill: "white"}));
// bottom axis
marks.push(Plot.ruleX(xTickBars, {x: d => d, y1: () => Y_DOMAIN[0], y2: () => Y_DOMAIN[0], insetBottom: -5, stroke: "black", shapeRendering: "crispEdges"}));
marks.push(Plot.text(xTicks, {x: "b", text: "t", frameAnchor: "bottom", textAnchor: "start", lineAnchor: "middle", dy: 15, fill: "black"}));
// frame & title
marks.push(Plot.frame({stroke: "black", shapeRendering: "crispEdges"}));
marks.push(Plot.text(["\u25BC"], {frameAnchor: "top-left", textAnchor: "middle", lineAnchor: "middle", dx: 7, dy: 13, fontSize: 10, fill: "black"}));
marks.push(Plot.text([title], {frameAnchor: "top-left", textAnchor: "start", lineAnchor: "middle", dx: 23, dy: 13, fill: "black"}));

const chart = Plot.plot({
  width: 2511, height: 1133,
  marginTop: 2, marginLeft: 3, marginRight: 82, marginBottom: 29,
  style: {background: "#F0F8FF", fontFamily: "DejaVu Sans, Tahoma, sans-serif", fontSize: "14px", color: "black", overflow: "visible"},
  x: {type: "linear", domain: X_DOMAIN, axis: null},
  y: {type: "linear", domain: Y_DOMAIN, axis: null},
  color: {type: "identity"},
  marks
});
document.getElementById("chart").appendChild(chart);
</script>
</body></html>
